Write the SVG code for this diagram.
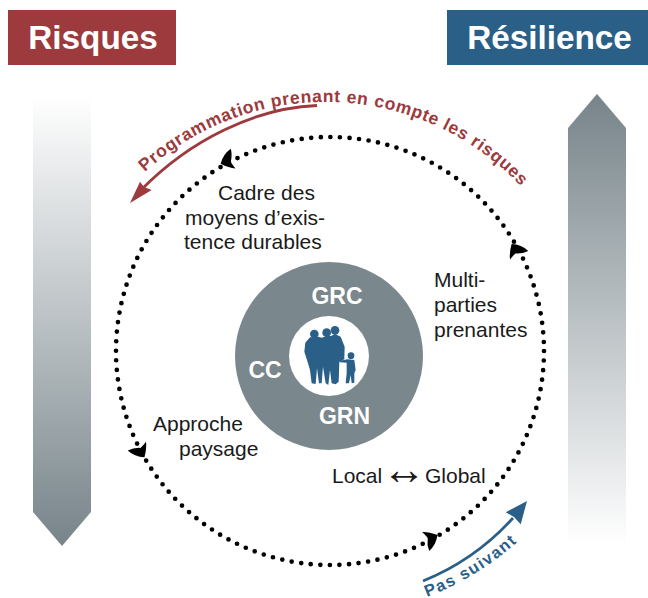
<svg xmlns="http://www.w3.org/2000/svg" xmlns:xlink="http://www.w3.org/1999/xlink" width="648" height="598" viewBox="0 0 648 598">
<style>
text{font-family:"Liberation Sans",Arial,sans-serif}
.hd{font-size:33.300px;font-weight:700;fill:#fff}
.lb{font-size:21px;fill:#1a1a1a}
.in{font-size:23px;font-weight:700;fill:#fff}
.red{font-size:17.500px;font-weight:700;fill:#9c3a3d;letter-spacing:.7px}
.blu{font-size:16.500px;font-weight:700;fill:#2a6088;letter-spacing:1.4px}
.arw{font-size:44px;fill:#1a1a1a}
</style>
<defs>
<linearGradient id="gd" x1="0" y1="0" x2="0" y2="1"><stop offset="0" stop-color="#fff"/><stop offset="1" stop-color="#77848a"/></linearGradient>
<linearGradient id="gu" x1="0" y1="1" x2="0" y2="0"><stop offset="0" stop-color="#fff"/><stop offset="1" stop-color="#77848a"/></linearGradient>
<path id="chev" d="M2,0Q-4,-7 -10,-10Q-8,-4 -8,-2Q-12,3 -13,10Q-4,8 2,0Z" fill="#000"/>
<path id="pr" d="M145,172A268,268 0 0 1 560,240"/>
<path id="ps" d="M427,597Q480,577 524,536"/>
</defs>
<rect width="648" height="598" fill="#fff"/>
<g id="risques"><rect x="8" y="10" width="168" height="55" fill="#9c3a3d"/><text class="hd" x="93" y="49" text-anchor="middle">Risques</text></g>
<g id="resilience"><rect x="447" y="10" width="201" height="55" fill="#2a6088"/><text class="hd" x="549.500" y="49" text-anchor="middle">Résilience</text></g>
<g id="bar-risques"><polygon points="33,95 91,95 91,512 62,546 33,512" fill="url(#gd)"/></g>
<g id="bar-resilience"><polygon points="597,94 626,128 626,545 568,545 568,128" fill="url(#gu)"/></g>
<g id="connectors">
<circle cx="330" cy="351" r="214" fill="none" stroke="#000" stroke-width="4.700" stroke-linecap="round" stroke-dasharray="0 9.604"/>
<use xlink:href="#chev" href="#chev" transform="translate(222.500 163) rotate(158)"/>
<use xlink:href="#chev" href="#chev" transform="translate(512.700 245.700) rotate(-124)"/>
<use xlink:href="#chev" href="#chev" transform="translate(143.300 455.700) rotate(56)"/>
<use xlink:href="#chev" href="#chev" transform="translate(435.700 536) rotate(-29)"/>
<path d="M317,105.500C255,108 190,140 141,190" fill="none" stroke="#9c3a3d" stroke-width="2.800"/>
<polygon points="130,203 140,181.700 144,187 151.700,190" fill="#9c3a3d"/>
<path d="M423,581Q475,560 513,518" fill="none" stroke="#2a6088" stroke-width="2.800"/>
<polygon points="527,501 520.700,524.300 514,517 505.700,512.300" fill="#2a6088"/>
</g>
<g id="label-programmation"><text class="red"><textPath href="#pr" xlink:href="#pr">Programmation prenant en compte les risques</textPath></text></g>
<g id="label-pas-suivant"><text class="blu"><textPath href="#ps" xlink:href="#ps">Pas suivant</textPath></text></g>
<g id="core">
<circle cx="329" cy="356" r="94" fill="#7a878d"/>
<circle cx="329" cy="356" r="40" fill="#fff"/>
<text class="in" x="337" y="303.500" text-anchor="middle">GRC</text>
<text class="in" x="265" y="377.500" text-anchor="middle">CC</text>
<text class="in" x="344.500" y="424" text-anchor="middle">GRN</text>
<g id="family" transform="translate(295 320) scale(.3333)" fill="#2a6088">
<circle cx="58" cy="42" r="13"/><circle cx="95" cy="38" r="13"/><circle cx="120" cy="31" r="13"/><circle cx="168" cy="107" r="10"/>
<path d="M45,52L31,68L28,95L36,120L45,150L50,190L62,192L66,145L72,190L80,190L84,140L92,190L100,195L105,150L110,190L122,193L131,185L133,125L148,118L149,80L137,50L120,42L108,48L95,48L80,53L70,50Z"/>
<path d="M158,118L133,122L135,127L155,128L155,160L152,190L162,190L167,165L170,190L178,188L178,160L182,150L178,120Z"/>
</g>
</g>
<g id="cadre"><text class="lb" x="218" y="200">Cadre des</text><text class="lb" x="185" y="225">moyens d’exis-</text><text class="lb" x="184" y="249">tence durables</text></g>
<g id="multi"><text class="lb" x="434" y="287">Multi-</text><text class="lb" x="434" y="312">parties</text><text class="lb" x="434" y="337">prenantes</text></g>
<g id="paysage"><text class="lb" x="153" y="431">Approche</text><text class="lb" x="179" y="456">paysage</text></g>
<g id="local"><text class="lb" x="332" y="483">Local</text><text class="arw" x="382" y="484">↔</text><text class="lb" x="425" y="483">Global</text></g>
</svg>
